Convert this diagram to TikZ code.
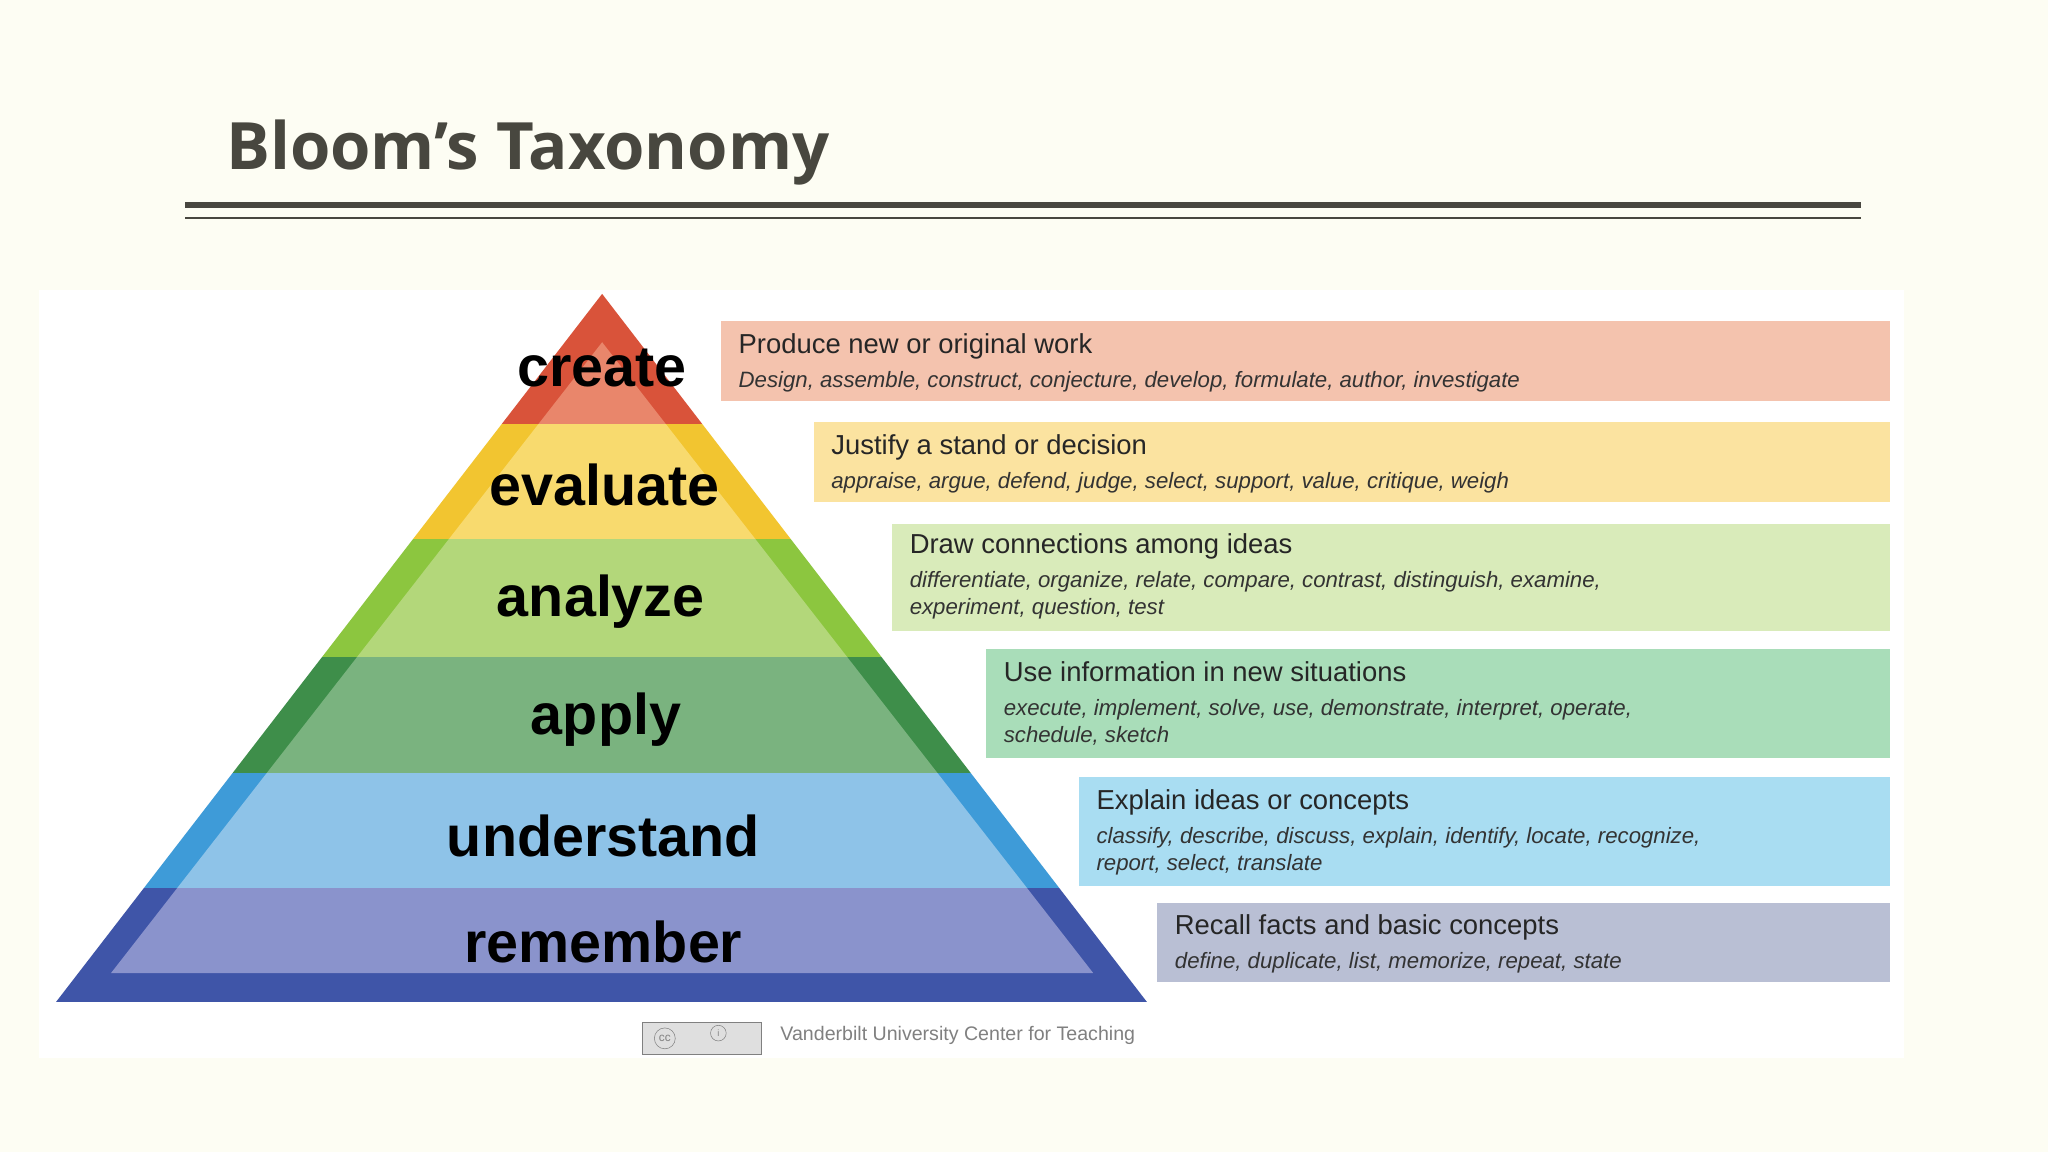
\documentclass[tikz,border=0pt]{standalone}
\usepackage{fontspec}
\setmainfont{Liberation Sans}
\newfontfamily\titlefont{Open Sans}
\definecolor{bg}{HTML}{FDFDF3}
\definecolor{ink}{HTML}{48473F}
\definecolor{rO}{HTML}{D9533A}\definecolor{rI}{HTML}{E9866B}
\definecolor{yO}{HTML}{F2C530}\definecolor{yI}{HTML}{F8DA6E}
\definecolor{gO}{HTML}{8CC63F}\definecolor{gI}{HTML}{B3D77A}
\definecolor{dO}{HTML}{3E8E4A}\definecolor{dI}{HTML}{7AB37F}
\definecolor{bO}{HTML}{3E9BD8}\definecolor{bI}{HTML}{8EC3E8}
\definecolor{nO}{HTML}{3F55A8}\definecolor{nI}{HTML}{8A93CC}
\definecolor{b1}{HTML}{F4C3AE}\definecolor{b2}{HTML}{FBE3A0}
\definecolor{b3}{HTML}{D9EBBA}\definecolor{b4}{HTML}{A9DDB9}
\definecolor{b5}{HTML}{A9DDF2}\definecolor{b6}{HTML}{B9BFD4}
\tikzset{
 lvl/.style={font=\fontsize{44}{48}\selectfont\bfseries, text=black},
 boxt/.style={anchor=north west, font=\fontsize{21}{25}\selectfont, text=black!85},
 boxs/.style={anchor=north west, font=\fontsize{17}{21}\selectfont\itshape, text=black!80, align=left},
}
\begin{document}
\begin{tikzpicture}[x=1pt,y=-1pt]
\useasboundingbox (0,0) rectangle (1568,882);
\fill[bg] (0,0) rectangle (1568,882);
\fill[white] (30,222) rectangle (1458,810);
\node[anchor=base west, font=\titlefont\fontsize{50}{60}\selectfont\bfseries, text=ink, inner sep=0] (title) at (173,130) {Bloom’s Taxonomy};
\draw[ink, line width=5] (142,157) -- (1425,157);
\draw[ink, line width=1.5] (142,167) -- (1425,167);
% pyramid outer
\begin{scope}
\clip (461,225) -- (878,767) -- (43,767) -- cycle;
\fill[rO] (0,200) rectangle (900,325);
\fill[yO] (0,325) rectangle (900,413);
\fill[gO] (0,413) rectangle (900,503);
\fill[dO] (0,503) rectangle (900,592);
\fill[bO] (0,592) rectangle (900,680);
\fill[nO] (0,680) rectangle (900,767);
\end{scope}
\begin{scope}
\clip (461,262) -- (837,745) -- (85,745) -- cycle;
\fill[rI] (0,200) rectangle (900,325);
\fill[yI] (0,325) rectangle (900,413);
\fill[gI] (0,413) rectangle (900,503);
\fill[dI] (0,503) rectangle (900,592);
\fill[bI] (0,592) rectangle (900,680);
\fill[nI] (0,680) rectangle (900,767);
\end{scope}
\node[lvl] (l1) at (461,282) {create};
\node[lvl] (l2) at (463,371) {evaluate};
\node[lvl] (l3) at (460,461) {analyze};
\node[lvl] (l4) at (464,551) {apply};
\node[lvl] (l5) at (462,640) {understand};
\node[lvl] (l6) at (462,721) {remember};
% boxes
\fill[b1] (552,246) rectangle (1447,307);
\fill[b2] (623,323) rectangle (1447,384);
\fill[b3] (683,401) rectangle (1447,483);
\fill[b4] (755,497) rectangle (1447,580);
\fill[b5] (826,595) rectangle (1447,678);
\fill[b6] (886,691) rectangle (1447,752);
\node[boxt] (t1) at (562,252) {Produce new or original work};
\node[boxs] (s1) at (562,281) {Design, assemble, construct, conjecture, develop, formulate, author, investigate};
\node[boxt] (t2) at (633,329) {Justify a stand or decision};
\node[boxs] (s2) at (633,358) {appraise, argue, defend, judge, select, support, value, critique, weigh};
\node[boxt] (t3) at (693,405) {Draw connections among ideas};
\node[boxs] (s3) at (693,434) {differentiate, organize, relate, compare, contrast, distinguish, examine,\\experiment, question, test};
\node[boxt] (t4) at (765,503) {Use information in new situations};
\node[boxs] (s4) at (765,532) {execute, implement, solve, use, demonstrate, interpret, operate,\\schedule, sketch};
\node[boxt] (t5) at (836,601) {Explain ideas or concepts};
\node[boxs] (s5) at (836,630) {classify, describe, discuss, explain, identify, locate, recognize,\\report, select, translate};
\node[boxt] (t6) at (896,697) {Recall facts and basic concepts};
\node[boxs] (s6) at (896,726) {define, duplicate, list, memorize, repeat, state};
% footer
\draw[gray, fill=gray!25] (492,783) rectangle (583,807);
\node[draw=gray, circle, inner sep=0, minimum size=16, font=\fontsize{9}{9}\selectfont, text=gray] (cc) at (509,795) {cc};
\node[draw=gray, circle, inner sep=0, minimum size=12, font=\fontsize{7}{7}\selectfont, text=gray] (by) at (550,791) {i};
\node[anchor=west, font=\fontsize{15}{18}\selectfont, text=gray] (foot) at (594,793) {Vanderbilt University Center for Teaching};
\end{tikzpicture}
\end{document}
